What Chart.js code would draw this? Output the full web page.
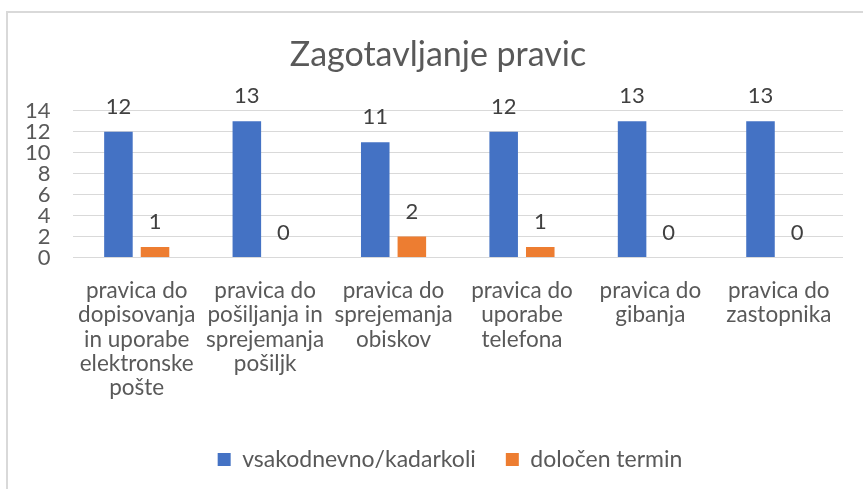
<!DOCTYPE html>
<html lang="sl">
<head>
  <meta charset="UTF-8" />
  <title>Zagotavljanje pravic</title>
  <script src="https://cdn.jsdelivr.net/npm/chart.js"></script>
  <style>
    html, body { margin: 0; padding: 0; background: #fff; }
    .frame {
      position: absolute; left: 6px; top: 11px; width: 860px; height: 490px;
      border-left: 2px solid #d9d9d9; border-top: 2px solid #d9d9d9;
    }
    #chart { position: absolute; left: 0; top: 0; }
  </style>
</head>
<body>
  <div class="frame"></div>
  <canvas id="chart" width="863" height="489"></canvas>

  <script>
    // categories (already wrapped the way the original shows them)
    const categories = [
      ['pravica do', 'dopisovanja', 'in uporabe', 'elektronske', 'pošte'],
      ['pravica do', 'pošiljanja in', 'sprejemanja', 'pošiljk'],
      ['pravica do', 'sprejemanja', 'obiskov'],
      ['pravica do', 'uporabe', 'telefona'],
      ['pravica do', 'gibanja'],
      ['pravica do', 'zastopnika']
    ];
    const dailyValues = [12, 13, 11, 12, 13, 13];
    const termValues = [1, 0, 2, 1, 0, 0];
    const seriesNames = ['vsakodnevno/kadarkoli', 'določen termin'];

    const FONT = 'Lato, "Open Sans", sans-serif';
    const grey = '#595959';

    // value labels above each bar
    const valueLabels = {
      id: 'valueLabels',
      afterDatasetsDraw(chart) {
        const ctx = chart.ctx;
        ctx.save();
        ctx.font = '22px ' + FONT;
        ctx.fillStyle = '#404040';
        ctx.textAlign = 'center';
        ctx.textBaseline = 'middle';
        chart.data.datasets.forEach((ds, i) => {
          chart.getDatasetMeta(i).data.forEach((bar, j) => {
            ctx.fillText(String(ds.data[j]), bar.x, bar.y - 25);
          });
        });
        ctx.restore();
      }
    };

    // title and legend sit a bit right of centre in the original
    const blockShift = {
      id: 'blockShift',
      afterLayout(chart) {
        chart.legend.left += 27;
        chart.legend.right += 27;
        chart.titleBlock.left += 15;
        chart.titleBlock.right += 15;
      }
    };

    new Chart(document.getElementById('chart'), {
      type: 'bar',
      data: {
        labels: categories,
        datasets: [
          { label: seriesNames[0], data: dailyValues, backgroundColor: '#4472C4',
            categoryPercentage: 0.57, barPercentage: 0.78 },
          { label: seriesNames[1], data: termValues, backgroundColor: '#ED7D31',
            categoryPercentage: 0.57, barPercentage: 0.78 }
        ]
      },
      options: {
        responsive: false,
        animation: false,
        layout: { padding: { left: 3, right: 20, top: 20, bottom: 8 } },
        plugins: {
          title: {
            display: true,
            text: 'Zagotavljanje pravic',
            color: grey,
            font: { family: FONT, size: 34, weight: 'normal' },
            padding: { top: 15, bottom: 35 }
          },
          legend: {
            position: 'bottom',
            labels: {
              color: grey,
              font: { family: FONT, size: 23 },
              boxWidth: 13, boxHeight: 13,
              padding: 30
            }
          },
          tooltip: { enabled: false }
        },
        scales: {
          x: {
            grid: { display: false },
            border: { display: false },
            afterFit(scale) { scale.height += 5; },
            ticks: {
              color: grey,
              font: { family: FONT, size: 22.5, lineHeight: 1.08 },
              maxRotation: 0, autoSkip: false, padding: 13
            }
          },
          y: {
            min: 0, max: 14,
            grid: { color: '#d9d9d9', drawTicks: false },
            border: { display: false },
            ticks: {
              stepSize: 2,
              autoSkip: false,
              color: grey,
              font: { family: FONT, size: 22, lineHeight: 1 },
              padding: 22
            }
          }
        }
      },
      plugins: [valueLabels, blockShift]
    });
  </script>
</body>
</html>
